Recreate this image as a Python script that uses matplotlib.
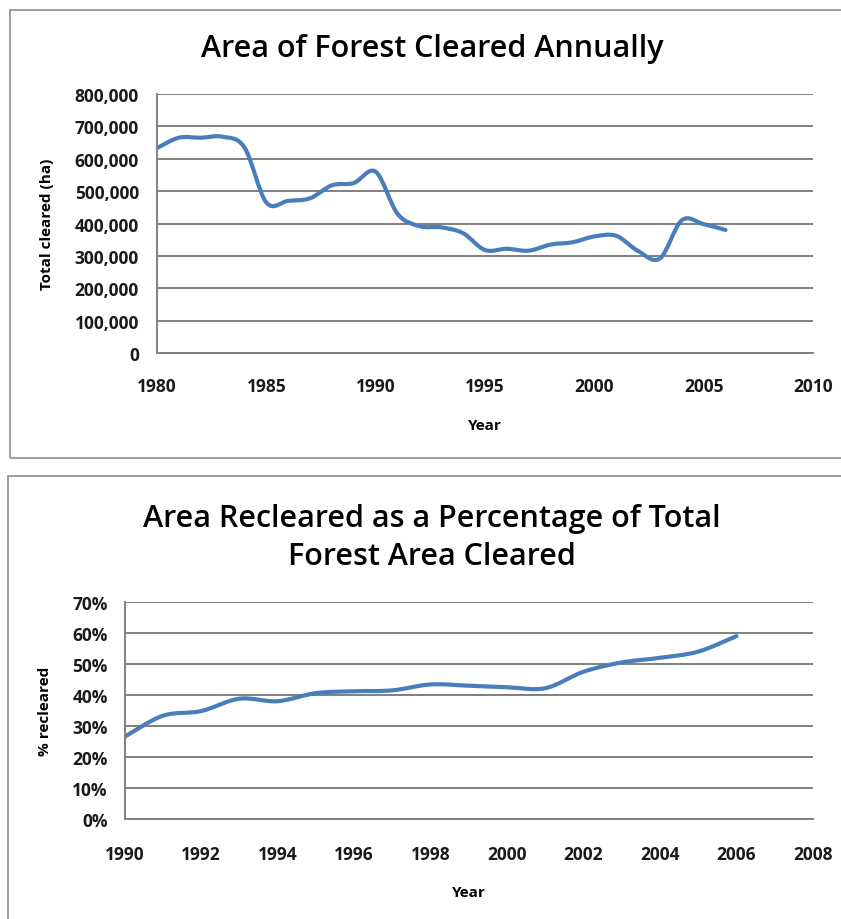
import matplotlib
matplotlib.use("Agg")
import matplotlib.pyplot as plt
from matplotlib.path import Path
from matplotlib.patches import PathPatch, Rectangle
from matplotlib.ticker import FuncFormatter, MultipleLocator

plt.rcParams['font.family'] = ['Open Sans', 'DejaVu Sans']

# ---- data ----
years_cleared = [1980, 1981, 1982, 1983, 1984, 1985, 1986, 1987, 1988, 1989,
                 1990, 1991, 1992, 1993, 1994, 1995, 1996, 1997, 1998, 1999,
                 2000, 2001, 2002, 2003, 2004, 2005, 2006]
total_cleared = [633000, 665000, 665000, 668000, 635000, 465000, 470000, 478000,
                 518000, 525000, 560000, 430000, 392000, 388000, 370000, 318000,
                 322000, 316000, 335000, 342000, 360000, 362000, 315000, 292000,
                 410000, 398000, 380000]

years_recleared = [1990, 1991, 1992, 1993, 1994, 1995, 1996, 1997, 1998, 1999,
                   2000, 2001, 2002, 2003, 2004, 2005, 2006]
pct_recleared = [0.265, 0.333, 0.348, 0.388, 0.380, 0.406, 0.412, 0.415, 0.434,
                 0.430, 0.425, 0.422, 0.475, 0.505, 0.520, 0.540, 0.590]

title1 = "Area of Forest Cleared Annually"
title2 = "Area Recleared as a Percentage of Total\nForest Area Cleared"

LINE = '#4a7ebb'
GRID = '#808080'
W, H = 841, 920


def smooth_path(xs, ys):
    """Excel-style smoothed line: cubic Bezier segments through the points."""
    n = len(xs)
    verts = [(xs[0], ys[0])]
    codes = [Path.MOVETO]
    for i in range(n - 1):
        x0, y0 = (xs[i - 1], ys[i - 1]) if i > 0 else (xs[i], ys[i])
        x1, y1 = xs[i], ys[i]
        x2, y2 = xs[i + 1], ys[i + 1]
        x3, y3 = (xs[i + 2], ys[i + 2]) if i + 2 < n else (xs[i + 1], ys[i + 1])
        c1 = (x1 + (x2 - x0) / 6.0, y1 + (y2 - y0) / 6.0)
        c2 = (x2 - (x3 - x1) / 6.0, y2 - (y3 - y1) / 6.0)
        verts += [c1, c2, (x2, y2)]
        codes += [Path.CURVE4] * 3
    return Path(verts, codes)


def style_axes(ax):
    for s in ['top', 'right']:
        ax.spines[s].set_visible(False)
    for s in ['left', 'bottom']:
        ax.spines[s].set_color(GRID)
        ax.spines[s].set_linewidth(1.4)
    ax.grid(axis='y', color=GRID, linewidth=1.4)
    ax.set_axisbelow(True)
    ax.tick_params(length=0, labelsize=12.5, labelcolor='#1a1a1a')
    for lab in ax.get_xticklabels() + ax.get_yticklabels():
        lab.set_fontweight('bold')


fig = plt.figure(figsize=(W / 100, H / 100), dpi=100)

# frames
fig.patches.append(Rectangle((10 / W, 1 - 459 / H), 1.0, 448 / H, transform=fig.transFigure,
                             fill=False, edgecolor='#8c8c8c', linewidth=1.2, clip_on=False))
fig.patches.append(Rectangle((8 / W, -0.05), 1.0, (1 - 477 / H) + 0.05, transform=fig.transFigure,
                             fill=False, edgecolor='#8c8c8c', linewidth=1.2, clip_on=False))

# ---- top chart ----
ax1 = fig.add_axes([157 / W, 1 - 354 / H, 656 / W, 259 / H])
ax1.set_xlim(1980, 2010)
ax1.set_ylim(0, 800000)
ax1.xaxis.set_major_locator(MultipleLocator(5))
ax1.yaxis.set_major_locator(MultipleLocator(100000))
ax1.yaxis.set_major_formatter(FuncFormatter(lambda v, p: f"{int(v):,}"))
style_axes(ax1)
ax1.tick_params(axis='y', pad=13)
ax1.tick_params(axis='x', pad=17)
ax1.add_patch(PathPatch(smooth_path(years_cleared, total_cleared), fill=False,
                        edgecolor=LINE, linewidth=3.0, capstyle='round', joinstyle='round'))
ax1.set_xlabel("Year", fontsize=11, fontweight='bold')
ax1.set_ylabel("Total cleared (ha)", fontsize=11, fontweight='bold')
ax1.xaxis.set_label_coords(0.5, (354 - 426) / 259)
ax1.xaxis.label.set_va('center')
ax1.yaxis.set_label_coords((47 - 157) / 656, 0.5)
ax1.yaxis.label.set_va('center')
fig.text(432 / W, 1 - 49 / H, title1, ha='center', va='center', fontsize=22,
         fontweight='semibold')

# ---- bottom chart ----
ax2 = fig.add_axes([124.5 / W, 1 - 820 / H, 688.5 / W, 217 / H])
ax2.set_xlim(1990, 2008)
ax2.set_ylim(0, 0.70)
ax2.xaxis.set_major_locator(MultipleLocator(2))
ax2.yaxis.set_major_locator(MultipleLocator(0.10))
ax2.yaxis.set_major_formatter(FuncFormatter(lambda v, p: f"{v * 100:.0f}%"))
style_axes(ax2)
ax2.tick_params(axis='y', pad=12)
ax2.tick_params(axis='x', pad=19)
ax2.add_patch(PathPatch(smooth_path(years_recleared, pct_recleared), fill=False,
                        edgecolor=LINE, linewidth=3.0, capstyle='round', joinstyle='round'))
ax2.set_xlabel("Year", fontsize=11, fontweight='bold')
ax2.set_ylabel("% recleared", fontsize=11, fontweight='bold')
ax2.xaxis.set_label_coords(0.5, (820 - 893) / 217)
ax2.xaxis.label.set_va('center')
ax2.yaxis.set_label_coords((45 - 124.5) / 688.5, 0.5)
ax2.yaxis.label.set_va('center')
fig.text(432 / W, 1 - 538 / H, title2, ha='center', va='center', fontsize=22,
         fontweight='semibold', linespacing=1.35)

fig.savefig("out.png", dpi=100)
